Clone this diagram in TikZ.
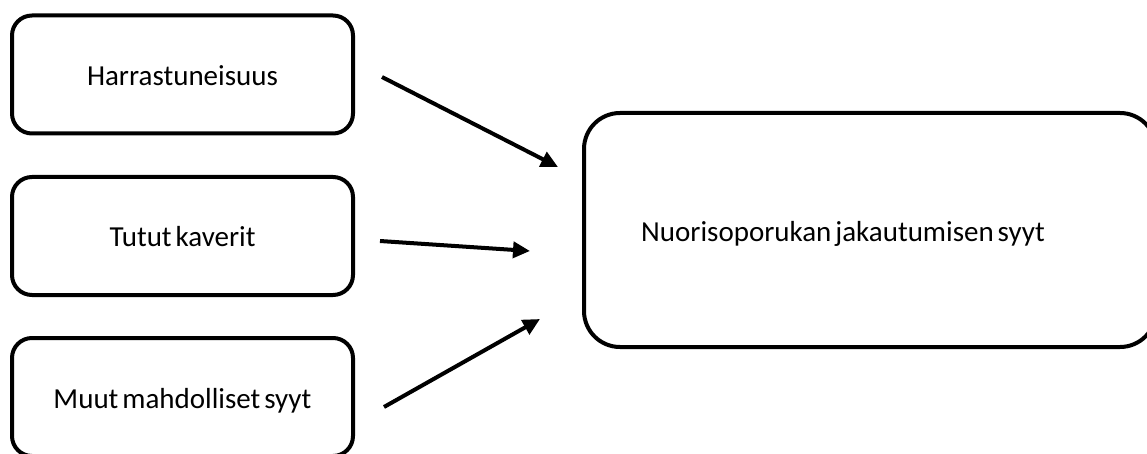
\documentclass[tikz,border=0pt]{standalone}
\usepackage{fontspec}
\setmainfont{Carlito}[WordSpace=0.6]
\usetikzlibrary{arrows.meta}
\begin{document}
\begin{tikzpicture}[x=1pt,y=-1pt,
  txt/.style={font=\fontsize{29}{34}\selectfont, text height=22pt, text depth=0pt},
  box/.style={draw, line width=4pt, rounded corners=20pt, minimum width=341pt, minimum height=118pt, inner sep=0pt, txt},
  bigbox/.style={draw, line width=4pt, rounded corners=36pt, minimum width=572pt, minimum height=234pt, inner sep=0pt},
  lbl/.style={inner sep=0pt, txt},
  arr/.style={line width=4pt, -{Triangle[length=17pt,width=16pt]}}]
\useasboundingbox (0,0) rectangle (1147,454);
\node[box] (h) at (182.5,74.5) {Harrastuneisuus};
\node[box] (t) at (182.5,236) {Tutut kaverit};
\node[box] (m) at (182.5,397) {Muut mahdolliset syyt};
\node[bigbox] (n) at (870,230) {};
\node[lbl] (nt) at (843,230) {Nuorisoporukan jakautumisen syyt};
\coordinate (a1s) at (382,77);
\coordinate (a1e) at (558,167);
\coordinate (a2s) at (380,241);
\coordinate (a2e) at (530,251);
\coordinate (a3s) at (384,407);
\coordinate (a3e) at (540,319);
\draw[arr] (a1s) -- (a1e);
\draw[arr] (a2s) -- (a2e);
\draw[arr] (a3s) -- (a3e);
\end{tikzpicture}
\end{document}
